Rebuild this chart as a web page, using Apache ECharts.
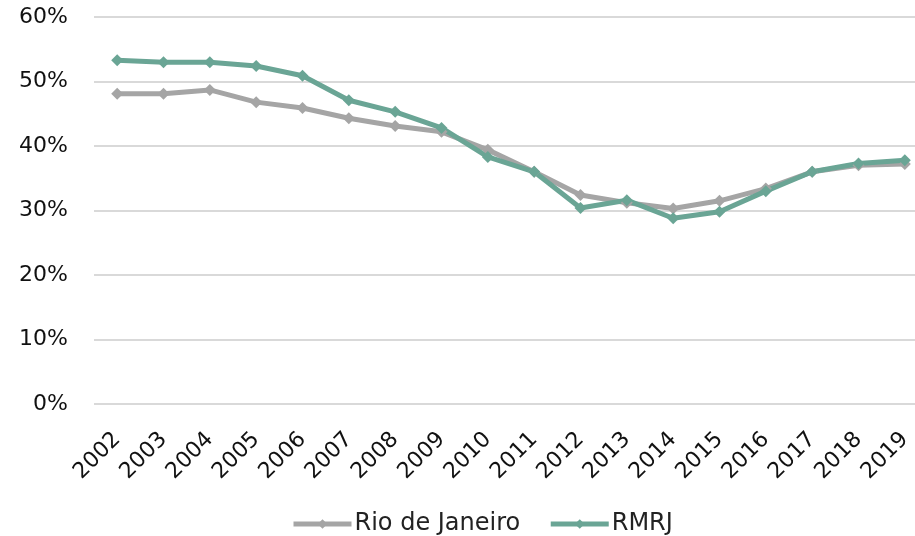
<!DOCTYPE html>
<html>
<head>
<meta charset="utf-8">
<script src="https://cdn.jsdelivr.net/npm/echarts@6/dist/echarts.min.js"></script>
<style>
  html, body { margin: 0; padding: 0; background: #fff; }
  #chart { width: 915px; height: 536px; }
</style>
</head>
<body>
<div id="chart"></div>
<script>
const years = ['2002', '2003', '2004', '2005', '2006', '2007', '2008', '2009', '2010',
  '2011', '2012', '2013', '2014', '2015', '2016', '2017', '2018', '2019']
const rioDeJaneiro = [48.1, 48.1, 48.7, 46.8, 45.9, 44.3, 43.1, 42.2, 39.4,
  36.0, 32.4, 31.2, 30.3, 31.5, 33.4, 36.0, 37.0, 37.2]
const rmrj = [53.3, 53.0, 53.0, 52.4, 50.9, 47.1, 45.3, 42.8, 38.3,
  36.0, 30.4, 31.6, 28.8, 29.8, 33.0, 36.0, 37.3, 37.8]

const chart = echarts.init(document.getElementById('chart'))
const font = 'DejaVu Sans'

chart.setOption({
  animation: false,
  backgroundColor: '#fff',
  textStyle: { fontFamily: font },
  grid: { left: 94, width: 834, top: 17, height: 387, outerBoundsMode: 'none' },
  legend: {
    top: 507,
    left: 286,
    itemWidth: 58,
    itemHeight: 12,
    itemGap: 28,
    lineStyle: { width: 5 },
    textStyle: { fontSize: 24, color: '#222', fontFamily: font, padding: [0, 0, 0, -2] },
    data: ['Rio de Janeiro', 'RMRJ']
  },
  xAxis: {
    type: 'category',
    data: years,
    axisLine: { show: false },
    axisTick: { show: false },
    axisLabel: { rotate: 45, fontSize: 22, color: '#111', margin: 32, fontFamily: font }
  },
  yAxis: {
    type: 'value',
    min: 0,
    max: 60,
    interval: 10,
    axisLabel: { formatter: '{value}%', fontSize: 22, color: '#111', margin: 26, fontFamily: font },
    splitLine: { lineStyle: { color: '#d9d9d9', width: 2 } },
    axisLine: { show: false },
    axisTick: { show: false }
  },
  series: [
    {
      name: 'Rio de Janeiro',
      type: 'line',
      data: rioDeJaneiro,
      symbol: 'diamond',
      symbolSize: 12,
      lineStyle: { color: '#a5a5a5', width: 5 },
      itemStyle: { color: '#a5a5a5' }
    },
    {
      name: 'RMRJ',
      type: 'line',
      data: rmrj,
      symbol: 'diamond',
      symbolSize: 12,
      lineStyle: { color: '#6aa595', width: 5 },
      itemStyle: { color: '#6aa595' }
    }
  ]
})
</script>
</body>
</html>
